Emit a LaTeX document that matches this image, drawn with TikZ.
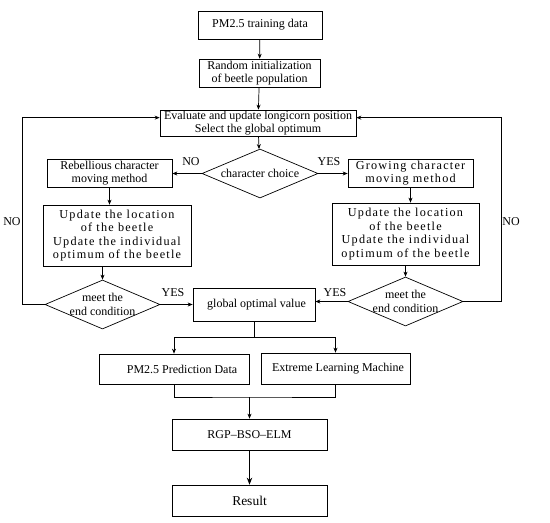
\documentclass[tikz,border=0pt]{standalone}
\usepackage{fontspec}
\setmainfont{Liberation Serif}
\usetikzlibrary{shapes.geometric,arrows.meta,calc}
\begin{document}
\begin{tikzpicture}[x=1pt,y=-1pt,
  line width=0.7pt,
  txt/.style={font=\fontsize{12}{13.3}\selectfont},
  sptxt/.style={font=\fontsize{12.2}{13.4}\selectfont\addfontfeature{LetterSpace=10}},
  box/.style={draw, rectangle, inner sep=0pt, align=center, txt},
  dia/.style={draw, diamond, inner sep=0pt},
  arr/.style={-{Stealth[length=5pt,width=4pt]}},
  thickarr/.style={line width=1.3pt,-{Stealth[length=7pt,width=5.5pt]}},
  lbl/.style={txt, inner sep=0pt}]
\useasboundingbox (0,0) rectangle (550,523);

\node[box, minimum width=124pt, minimum height=28pt] (train) at (260,25) {PM2.5 training data};
\node[box, minimum width=121pt, minimum height=28pt] (init) at (259.5,73) {Random initialization\\of beetle population};
\node[box, minimum width=196pt, minimum height=26pt] (eval) at (258,123) {Evaluate and update longicorn position\\Select the global optimum};
\node[dia, minimum width=116pt, minimum height=49pt,
  label={[txt, inner sep=0pt]center:character choice}] (choice) at (260,173.5) {};
\node[box, minimum width=125pt, minimum height=28pt] (rebel) at (109.5,173) {Rebellious character\\moving method};
\node[box, sptxt, minimum width=125pt, minimum height=28pt] (grow) at (410.5,173) {Growing character\\moving method};
\node[box, sptxt, minimum width=148pt, minimum height=61pt] (updL) at (117,235.5) {Update the location\\of the beetle\\Update the individual\\optimum of the beetle};
\node[box, sptxt, minimum width=147pt, minimum height=62pt] (updR) at (405.5,234) {Update the location\\of the beetle\\Update the individual\\optimum of the beetle};
\node[dia, minimum width=115pt, minimum height=49pt,
  label={[txt, align=center, inner sep=0pt]center:meet the\\end condition}] (meetL) at (102.5,304.5) {};
\node[box, minimum width=122pt, minimum height=33pt] (global) at (254,304.5) {\hspace{5pt}global optimal value};
\node[dia, minimum width=115pt, minimum height=49pt,
  label={[txt, align=center, inner sep=0pt]center:meet the\\end condition}] (meetR) at (405.5,301.5) {};
\node[box, minimum width=150pt, minimum height=30pt] (pred) at (174,369) {\hspace{16pt}PM2.5 Prediction Data};
\node[box, minimum width=149pt, minimum height=31pt] (elm) at (335.5,368.5) {\hspace{5pt}Extreme Learning Machine};
\node[box, minimum width=155pt, minimum height=31pt] (rgp) at (249.5,434.5) {RGP--BSO--ELM};
\node[box, font=\fontsize{13.5}{15}\selectfont, minimum width=155pt, minimum height=31pt] (result) at (249.5,500.5) {Result};

% labels
\node[lbl] (noA) at (191,162) {NO};
\node[lbl] (yesA) at (329,162) {YES};
\node[lbl] (noL) at (12,222) {NO};
\node[lbl] (noR) at (511,222) {NO};
\node[lbl] (yesL) at (173,293) {YES};
\node[lbl] (yesR) at (335,293) {YES};

% connectors
\draw[arr] (train) -- (init);
\draw[arr] (init) -- (eval);
\draw[arr] (eval) -- (choice);
\draw[arr] (choice.west) -- (choice.west -| rebel.east);
\draw[arr] (choice.east) -- (choice.east -| grow.west);
\draw[arr] (rebel.south) -- (rebel.south |- updL.north);
\draw[arr] (grow.south) -- (grow.south |- updR.north);
\draw[arr] (meetL.north |- updL.south) -- (meetL.north);
\draw[arr] (meetR.north |- updR.south) -- (meetR.north);
\draw[arr] (meetL.east) -- (meetL.east -| global.west);
\draw[arr] (meetR.west) -- (meetR.west -| global.east);
\draw[arr] (meetL.west) -- ++(-22,0) |- ([yshift=-8pt]eval.north west);
\draw[arr] (meetR.east) -- ++(38,0) |- ([yshift=-8pt]eval.north east);

\coordinate (split) at ($(global.south)+(0,16)$);
\draw (global.south) -- (split);
\draw (split -| pred.north) -- (split -| elm.north);
\draw[arr] (split -| pred.north) -- (pred.north);
\draw[arr] (split -| elm.north) -- (elm.north);

\coordinate (merge) at (249.5,397);
\draw (pred.south) |- (merge) -| (elm.south);
\draw[arr] (merge) -- (rgp.north);
\draw[thickarr] (rgp) -- (result);
\end{tikzpicture}
\end{document}
